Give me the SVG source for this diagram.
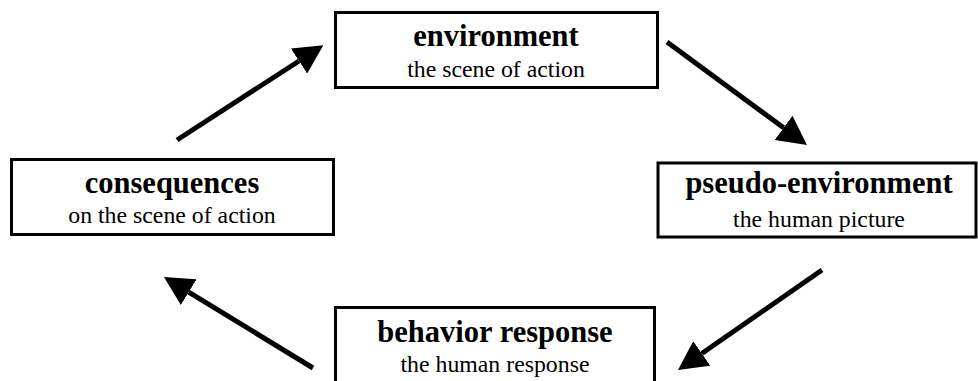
<svg xmlns="http://www.w3.org/2000/svg" width="978" height="381" viewBox="0 0 978 381">
<style>
.box{fill:#fff;stroke:#000;stroke-width:3}
.t{font-family:'Liberation Serif',serif;font-weight:bold;font-size:30.5px;fill:#000;text-anchor:middle}
.s{font-family:'Liberation Serif',serif;font-weight:normal;font-size:23.8px;fill:#000;text-anchor:middle}
.c{stroke:#000;stroke-width:5;fill:none;marker-end:url(#ah)}
</style>
<defs>
<marker id="ah" markerUnits="userSpaceOnUse" viewBox="0 0 29 30" markerWidth="29" markerHeight="30" refX="0" refY="15" orient="auto">
<path d="M0,0 L29,15 L0,30 Z" fill="#000"/>
</marker>
</defs>
<rect width="978" height="381" fill="#fff"/>
<g id="environment">
<rect class="box" x="335.5" y="12.5" width="322" height="75"/>
<text class="t" x="496" y="46">environment</text>
<text class="s" x="496" y="77">the scene of action</text>
</g>
<g id="pseudo-environment">
<rect class="box" x="658" y="163" width="318" height="74"/>
<text class="t" x="819" y="193">pseudo-environment</text>
<text class="s" x="819" y="227">the human picture</text>
</g>
<g id="behavior-response">
<rect class="box" x="335.5" y="307.5" width="319" height="90"/>
<text class="t" x="495" y="342">behavior response</text>
<text class="s" x="495" y="372">the human response</text>
</g>
<g id="consequences">
<rect class="box" x="11.5" y="159.5" width="322" height="75"/>
<text class="t" x="172" y="193">consequences</text>
<text class="s" x="172" y="223">on the scene of action</text>
</g>
<g id="connectors">
<line class="c" x1="177" y1="140" x2="299" y2="61"/>
<line class="c" x1="667" y1="42" x2="783.6" y2="127.8"/>
<line class="c" x1="822" y1="270" x2="701.8" y2="353.5"/>
<line class="c" x1="313" y1="368" x2="188.7" y2="292.1"/>
</g>
</svg>
